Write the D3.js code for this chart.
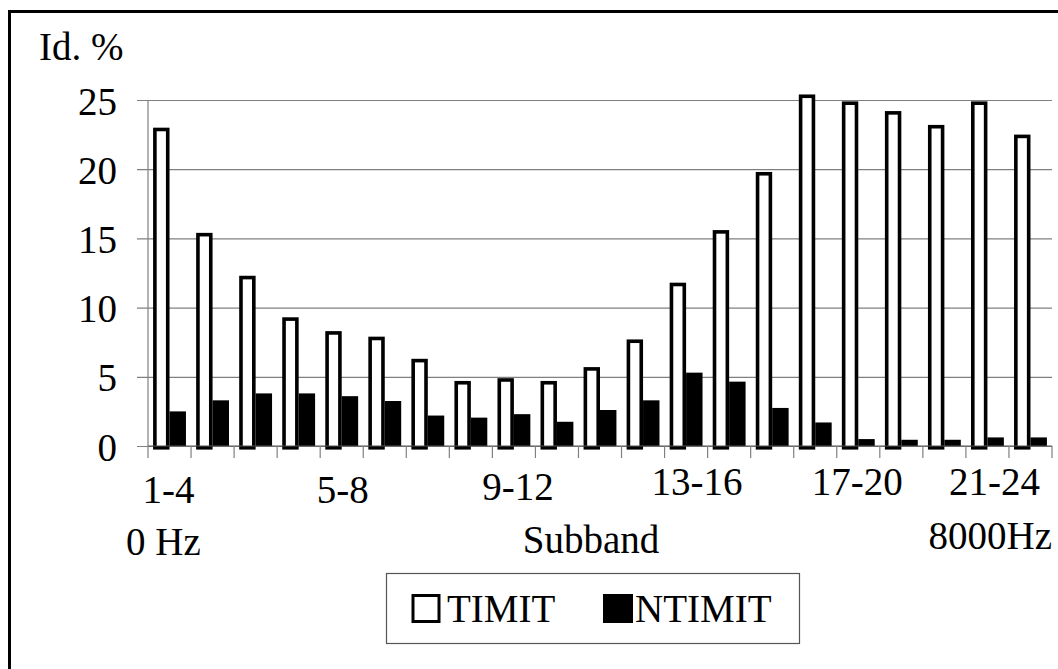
<!DOCTYPE html>
<html>
<head>
<meta charset="utf-8">
<script src="https://cdn.jsdelivr.net/npm/d3@7"></script>
<style>
  html, body { margin: 0; padding: 0; background: #fff; }
  svg { display: block; }
  text { font-family: "Liberation Serif", "Times New Roman", "DejaVu Serif", serif; fill: #000; }
</style>
</head>
<body>
<svg id="chart" width="1058" height="669"></svg>
<script>
// ---- data ----
const subbands = ["1","2","3","4","5","6","7","8","9","10","11","12","13","14","15","16","17","18","19","20","21"];
const timit  = [23.0, 15.4, 12.3, 9.3, 8.3, 7.9, 6.3, 4.7, 4.9, 4.7, 5.7, 7.7, 11.8, 15.6, 19.8, 25.4, 24.9, 24.2, 23.2, 24.9, 22.5];
const ntimit = [2.5, 3.3, 3.8, 3.8, 3.6, 3.25, 2.2, 2.05, 2.3, 1.75, 2.6, 3.3, 5.3, 4.65, 2.75, 1.7, 0.5, 0.45, 0.45, 0.62, 0.62];
const seriesNames = ["TIMIT", "NTIMIT"];
const yTicks = [0, 5, 10, 15, 20, 25];
const xTickLabels = [
  { index: 0,  label: "1-4" },
  { index: 4,  label: "5-8" },
  { index: 8,  label: "9-12" },
  { index: 12, label: "13-16" },
  { index: 16, label: "17-20" },
  { index: 20, label: "21-24" }
];
const yTitle = "Id. %";
const xTitle = "Subband";
const xLeftNote = "0 Hz";
const xRightNote = "8000Hz";

// ---- layout ----
const svg = d3.select("#chart");
const L = 148, R = 1052, T = 100, B = 446;
const FS = 39;
const FONT = "'Liberation Serif', 'Times New Roman', 'DejaVu Serif', serif";
const gridColor = "#808080";
// label placement nudges (dx, baseline) for the category labels
const labelNudge = [[-1, 503], [1, 503], [4, 500], [11, 495], [-1, 495], [-36, 495]];

const x0 = d3.scaleBand().domain(subbands).range([L, R]).paddingInner(0).paddingOuter(0);
const x1 = d3.scaleBand().domain(seriesNames).range([0, x0.bandwidth()]).paddingInner(0).paddingOuter(0.31);
const y = d3.scaleLinear().domain([0, 25]).range([B, T]);

// frame
svg.append("rect").attr("x", 9.5).attr("y", 11.5).attr("width", 1100).attr("height", 700)
  .attr("fill", "none").attr("stroke", "#000").attr("stroke-width", 3);

// gridlines + y ticks
const yAxis = d3.axisLeft(y).tickValues(yTicks).tickSize(-(R - L)).tickFormat("");
const gy = svg.append("g").attr("transform", `translate(${L},0)`).call(yAxis);
gy.select(".domain").remove();
gy.selectAll(".tick line").attr("stroke", gridColor).attr("stroke-width", 1.2)
  .attr("x1", -11).attr("x2", R - L);
// y axis line
svg.append("line").attr("x1", L).attr("x2", L).attr("y1", y(25)).attr("y2", y(0))
  .attr("stroke", gridColor).attr("stroke-width", 1.2);

// y tick labels
svg.append("g").selectAll("text").data(yTicks).join("text")
  .attr("x", 117).attr("y", d => y(d) + 14.5)
  .attr("text-anchor", "end").attr("font-family", FONT).attr("font-size", FS).text(d => d);

// bars
const groups = svg.append("g").selectAll("g").data(subbands).join("g")
  .attr("transform", d => `translate(${x0(d)},0)`);
const sw = 3.6;
groups.append("rect")
  .attr("x", (d, i) => x1("TIMIT") + sw / 2)
  .attr("y", (d, i) => y(timit[i]) + sw / 2)
  .attr("width", x1.bandwidth() - sw)
  .attr("height", (d, i) => y(0) - y(timit[i]))
  .attr("fill", "#fff").attr("stroke", "#000").attr("stroke-width", sw);
groups.append("rect")
  .attr("x", (d, i) => x1("NTIMIT"))
  .attr("y", (d, i) => y(ntimit[i]))
  .attr("width", x1.bandwidth())
  .attr("height", (d, i) => y(0) - y(ntimit[i]))
  .attr("fill", "#000");

// x axis
const xAxisG = svg.append("g").attr("transform", `translate(0,${B})`);
xAxisG.append("line").attr("x1", L).attr("x2", R).attr("y1", 0).attr("y2", 0)
  .attr("stroke", "#555").attr("stroke-width", 1.2);
const boundaries = subbands.map(d => x0(d)).concat([R]);
xAxisG.selectAll("line.tk").data(boundaries).join("line").attr("class", "tk")
  .attr("x1", d => d).attr("x2", d => d).attr("y1", 0).attr("y2", 12)
  .attr("stroke", gridColor).attr("stroke-width", 1.2);

// category labels
svg.append("g").selectAll("text").data(xTickLabels).join("text")
  .attr("x", (d, i) => x0(subbands[d.index]) + x0.bandwidth() / 2 + labelNudge[i][0])
  .attr("y", (d, i) => labelNudge[i][1])
  .attr("text-anchor", "middle").attr("font-family", FONT).attr("font-size", FS).text(d => d.label);

// axis titles / notes
svg.append("text").attr("x", 39).attr("y", 60).attr("font-family", FONT).attr("font-size", FS).text(yTitle);
svg.append("text").attr("x", 126).attr("y", 555).attr("font-family", FONT).attr("font-size", FS).text(xLeftNote);
svg.append("text").attr("x", 591).attr("y", 553).attr("text-anchor", "middle").attr("font-family", FONT).attr("font-size", FS).text(xTitle);
svg.append("text").attr("x", R).attr("y", 549).attr("text-anchor", "end").attr("font-family", FONT).attr("font-size", FS).text(xRightNote);

// legend
const lg = svg.append("g");
lg.append("rect").attr("x", 386.5).attr("y", 573.5).attr("width", 413).attr("height", 70)
  .attr("fill", "#fff").attr("stroke", "#555").attr("stroke-width", 1.2);
lg.append("rect").attr("x", 413).attr("y", 595.5).attr("width", 26).attr("height", 26)
  .attr("fill", "#fff").attr("stroke", "#000").attr("stroke-width", 3);
lg.append("text").attr("x", 447).attr("y", 622).attr("font-family", FONT).attr("font-size", FS).text(seriesNames[0]);
lg.append("rect").attr("x", 603).attr("y", 594).attr("width", 30).attr("height", 29).attr("fill", "#000");
lg.append("text").attr("x", 635).attr("y", 622).attr("font-family", FONT).attr("font-size", FS).text(seriesNames[1]);
</script>
</body>
</html>
